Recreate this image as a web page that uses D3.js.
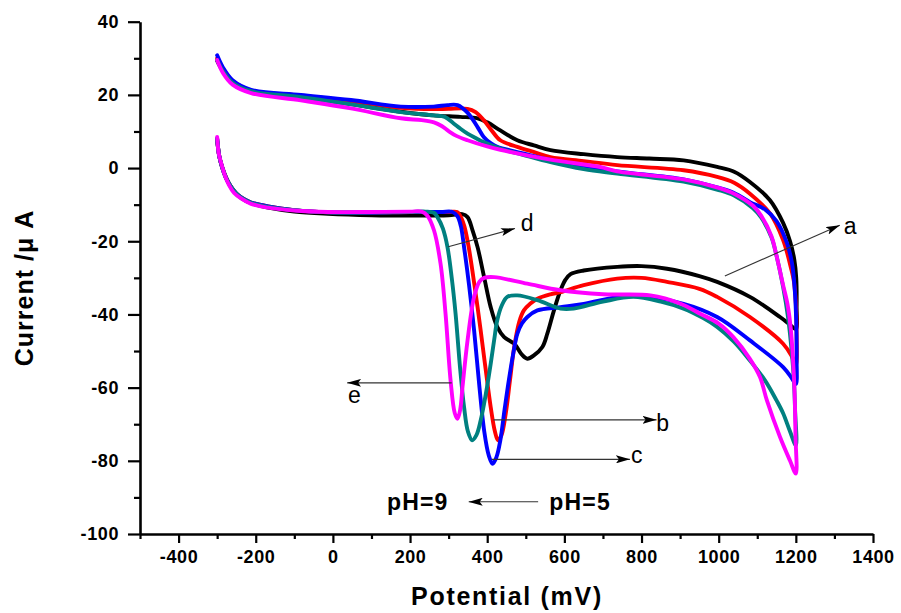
<!DOCTYPE html>
<html>
<head>
<meta charset="utf-8">
<script src="https://cdn.jsdelivr.net/npm/d3@7"></script>
<style>
  html, body { margin: 0; padding: 0; background: #fff; }
  svg { display: block; }
  text { font-family: "Liberation Sans", Arial, sans-serif; }
</style>
</head>
<body>
<svg id="chart" width="901" height="613"></svg>
<script>
// ---------------- data (potential mV, current µA) ----------------
const xTicks = [-400, -200, 0, 200, 400, 600, 800, 1000, 1200, 1400];
const yTicks = [-100, -80, -60, -40, -20, 0, 20, 40];

// curve a (black)
const aLower = [[-300,7.5],[-294,3],[-286,0],[-275,-3],[-262,-5.5],[-246,-7.5],[-225,-9],[-200,-10],[-168,-10.8],[-100,-11.9],[-13,-12.5],[100,-12.9],[200,-13],[300,-12.9],[335,-12.6],[349,-13.4],[362,-17],[375,-21.6],[392,-29.8],[409,-38],[426,-43.4],[444,-46.2],[470,-48],[490,-51],[504,-52.1],[521,-51.2],[543,-48.9],[556,-45.2],[573,-38.9],[590,-33.4],[603,-30.5],[616,-29],[650,-28],[737,-27.0],[800,-26.8],[866,-27.5],[950,-29.5],[996,-31.1],[1081,-35.2],[1159,-40.7],[1185,-42.8],[1200,-44]];
const aUpper = [[1200,-44],[1202,-38],[1201,-30],[1196,-25],[1185,-20],[1167,-15],[1133,-8.8],[1081,-3.8],[1040,-1],[996,0.3],[909,2.1],[820,2.6],[737,3.0],[650,3.8],[564,4.9],[521,6.2],[478,7.6],[434,10.3],[400,12.5],[375,13.6],[330,14.0],[260,14.4],[176,15.4],[47,17.5],[-83,19.5],[-212,21.0],[-260,23.5],[-285,26.5],[-300,29.3]];

// curve b (red)
const bLower = [[-300,8],[-295,3.5],[-288,0.5],[-278,-2.5],[-265,-5],[-250,-7],[-230,-8.5],[-212,-9.4],[-168,-10.5],[-100,-11.5],[-13,-12.1],[100,-12.2],[200,-12.0],[300,-12.0],[322,-12.0],[331,-13.2],[341,-16],[352,-21.6],[367,-32],[383,-44.3],[396,-55],[409,-65.3],[420,-72],[428,-74.4],[437,-73],[448,-67.1],[459,-58],[470,-48.9],[483,-42],[495,-38.9],[512,-37],[530,-35.7],[564,-34.5],[590,-33.9],[650,-32],[737,-30.2],[800,-30],[866,-31.1],[950,-33],[996,-35.2],[1081,-40.7],[1167,-48],[1190,-51.5],[1200,-54]];
const bUpper = [[1200,-54],[1202,-45],[1200,-37],[1195,-31],[1189,-28],[1167,-19.7],[1133,-12.4],[1081,-7.0],[1040,-4],[996,-2.4],[909,-0.6],[737,0.8],[650,1.9],[564,3.0],[520,4.4],[478,5.8],[434,7.6],[410,10.5],[391,13.1],[370,15.3],[349,16.2],[300,16.2],[261,16.1],[176,16.5],[47,18.3],[-83,19.8],[-212,21.2],[-260,23.8],[-285,27],[-300,30]];

// curve c (blue)
const cLower = [[-300,8],[-295,3.5],[-288,0.5],[-278,-2.5],[-265,-5],[-250,-7],[-230,-8.5],[-212,-9.4],[-168,-10.5],[-100,-11.5],[-13,-12.1],[100,-12.2],[200,-12.0],[280,-12.0],[310,-12.0],[323,-13.2],[332,-16],[340,-21.6],[353,-32],[366,-44.3],[380,-60],[392,-71.7],[404,-78.5],[414,-80.8],[424,-79],[434,-74.4],[445,-66],[456,-58],[467,-51],[478,-45.3],[490,-42.5],[504,-40.7],[530,-38.9],[590,-38],[650,-37.1],[779,-34.8],[909,-37.1],[996,-40.7],[1081,-47.1],[1167,-54.4],[1190,-57.5],[1200,-59]];
const cUpper = [[1200,-59],[1202,-52],[1201,-42],[1197,-33],[1190,-26],[1177,-20.5],[1150,-14.5],[1120,-11.3],[1081,-9.3],[1040,-6.8],[996,-5.3],[909,-3.1],[737,-0.9],[650,0.6],[564,2.2],[490,4.1],[426,5.8],[409,6.8],[391,8.5],[375,11.2],[350,15],[323,17.2],[297,17.2],[261,16.8],[176,16.8],[47,18.6],[-83,20],[-212,21.4],[-260,24],[-285,27.5],[-300,30.8]];

// curve d (teal)
const dLower = [[-300,8],[-295,3.5],[-288,0.5],[-278,-2.5],[-265,-5],[-250,-7],[-230,-8.6],[-212,-9.5],[-168,-10.6],[-100,-11.5],[-13,-12.1],[100,-12.1],[200,-12.0],[240,-11.9],[262,-12.2],[271,-13.4],[285,-16.5],[297,-21.6],[308,-30],[318,-39.8],[330,-55],[340,-65.3],[350,-72],[361,-74.4],[372,-73],[383,-69],[396,-62],[409,-53.5],[418,-47],[426,-41.6],[438,-37.5],[452,-35.2],[478,-34.8],[530,-36.1],[590,-38.4],[624,-38.4],[700,-36.5],[779,-35.2],[850,-36.5],[909,-38.4],[960,-41],[996,-43.4],[1040,-47.5],[1081,-52.6],[1120,-58],[1150,-63.5],[1167,-67],[1185,-72],[1200,-75.8]];
const dUpper = [[1200,-75.8],[1198,-66],[1195,-58],[1190,-51],[1180,-41],[1167,-32.5],[1150,-24],[1137,-19],[1110,-13.5],[1089,-11],[1040,-7.5],[1000,-6.0],[909,-3.7],[737,-1.5],[650,-0.3],[564,1.6],[490,3.7],[434,5.3],[391,7.1],[370,8.2],[349,9.4],[330,10.8],[313,12.2],[290,14],[261,14.4],[176,15.3],[47,17.4],[-83,19.4],[-212,21.0],[-260,23.3],[-285,26.5],[-300,29.5]];

// curve e (magenta)
const eLower = [[-300,8.5],[-296,4],[-290,1.5],[-280,-2],[-270,-4.5],[-256,-6.8],[-238,-8.3],[-212,-9.8],[-168,-10.8],[-100,-11.6],[-13,-12.0],[100,-12.0],[200,-11.9],[230,-11.9],[245,-13],[262,-17],[279,-26.1],[292,-39.8],[305,-58],[316,-67],[323,-68.5],[330,-66],[336,-59.8],[349,-47.1],[366,-35.2],[380,-31],[392,-30],[418,-29.8],[504,-31.6],[590,-33.4],[700,-34.5],[823,-34.8],[900,-37],[952,-39.8],[1000,-42.5],[1038,-46.2],[1080,-52],[1107,-57.1],[1125,-63.5],[1159,-73.5],[1185,-80],[1200,-83.5]];
const eUpper = [[1200,-83.5],[1199,-73],[1197,-62],[1193,-53],[1187,-44],[1178,-37],[1167,-32],[1150,-24],[1137,-18.7],[1110,-13],[1089,-10.3],[1040,-7],[1000,-5.4],[909,-3.1],[737,-0.9],[693,0.3],[564,2.3],[434,5.0],[400,5.9],[349,7.6],[320,8.8],[300,10.1],[282,11.5],[262,12.5],[230,13.1],[176,13.6],[47,16.3],[-83,18.5],[-212,20.5],[-260,22.8],[-285,26],[-300,29.5]];

const seriesNames = ["a", "b", "c", "d", "e"];
const seriesColors = ["#000000", "#ff0000", "#0000ff", "#008080", "#ff00ff"];
const seriesData = [aLower.concat(aUpper.slice(1)), bLower.concat(bUpper.slice(1)),
                    cLower.concat(cUpper.slice(1)), dLower.concat(dUpper.slice(1)),
                    eLower.concat(eUpper.slice(1))];

// annotation arrows: [fromE, fromI, toE, toI, label, labelE, labelI]
const arrows = [
  [1016, -29.5, 1314, -15.6, "a", 1324, -18.1],
  [299, -21.5, 472, -16.5, "d", 487, -17.3],
  [308, -58.7, 37, -58.7, "e", 39, -64.2],
  [416, -68.8, 839, -68.8, "b", 838, -71.8],
  [412, -79.6, 770, -79.6, "c", 773, -80.7],
  [532, -91.2, 352, -91.2, null, 0, 0]
];
const phLabels = [["pH=9", 140, -93.5], ["pH=5", 561, -93.5]];

// ---------------- drawing ----------------
const svg = d3.select("#chart");
const x = d3.scaleLinear().domain([-500, 1400]).range([140, 873]);
const y = d3.scaleLinear().domain([-100, 40]).range([534, 21.7]);

// curves
const line = d3.line().x(d => x(d[0])).y(d => y(d[1])).curve(d3.curveCatmullRom.alpha(0.5));
svg.append("g").selectAll("path").data(seriesData).join("path")
  .attr("d", d => line(d))
  .attr("fill", "none")
  .attr("stroke", (d, i) => seriesColors[i])
  .attr("stroke-width", 3.9)
  .attr("stroke-linejoin", "round")
  .attr("stroke-linecap", "round");

// axes
const fmt = d => String(d);
const xMinor = d3.range(-500, 1401, 100).filter(v => !xTicks.includes(v));
const yMinor = d3.range(-90, 40, 20);

svg.append("g").attr("transform", `translate(0,534)`)
  .call(d3.axisBottom(x).tickValues(xTicks).tickSize(9).tickSizeOuter(0).tickPadding(7.7).tickFormat(fmt));
svg.append("g").attr("transform", `translate(0,534)`)
  .call(d3.axisBottom(x).tickValues(xMinor).tickSize(5).tickSizeOuter(0).tickFormat(""))
  .select(".domain").remove();
svg.append("g").attr("transform", `translate(140,0)`)
  .call(d3.axisLeft(y).tickValues(yTicks).tickSize(12).tickSizeOuter(0).tickPadding(9).tickFormat(fmt));
svg.append("g").attr("transform", `translate(140,0)`)
  .call(d3.axisLeft(y).tickValues(yMinor).tickSize(6).tickSizeOuter(0).tickFormat(""))
  .select(".domain").remove();

svg.selectAll(".domain").attr("stroke", "#000").attr("stroke-width", 2.6);
svg.selectAll(".tick line").attr("stroke", "#000").attr("stroke-width", 2.2);
svg.selectAll(".tick text")
  .attr("fill", "#000")
  .style("font-family", '"Liberation Sans", Arial, sans-serif')
  .style("font-weight", "bold")
  .style("font-size", "18px")
  .style("letter-spacing", "0.6px");

// axis titles
svg.append("text")
  .attr("x", 507).attr("y", 605)
  .attr("text-anchor", "middle")
  .style("font-weight", "bold").style("font-size", "25px").style("letter-spacing", "1.7px")
  .text("Potential (mV)");
svg.append("text")
  .attr("transform", "translate(33,288) rotate(-90)")
  .attr("text-anchor", "middle")
  .style("font-weight", "bold").style("font-size", "25px").style("letter-spacing", "1px")
  .text("Current /μ A");

// arrow marker
svg.append("defs").append("marker")
  .attr("id", "ah").attr("viewBox", "0 0 14 8").attr("refX", 14).attr("refY", 4)
  .attr("markerWidth", 14).attr("markerHeight", 8).attr("markerUnits", "userSpaceOnUse")
  .attr("orient", "auto")
  .append("path").attr("d", "M0,0 L14,4 L0,8 L3,4 Z").attr("fill", "#000");

const ga = svg.append("g");
ga.selectAll("line").data(arrows).join("line")
  .attr("x1", d => x(d[0])).attr("y1", d => y(d[1]))
  .attr("x2", d => x(d[2])).attr("y2", d => y(d[3]))
  .attr("stroke", "#333").attr("stroke-width", 1.1)
  .attr("marker-end", "url(#ah)");
ga.selectAll("text").data(arrows.filter(d => d[4])).join("text")
  .attr("x", d => x(d[5])).attr("y", d => y(d[6]))
  .style("font-size", "23px")
  .text(d => d[4]);

svg.append("g").selectAll("text").data(phLabels).join("text")
  .attr("x", d => x(d[1])).attr("y", d => y(d[2]))
  .style("font-weight", "bold").style("font-size", "23px").style("letter-spacing", "1.2px")
  .text(d => d[0]);
</script>
</body>
</html>
